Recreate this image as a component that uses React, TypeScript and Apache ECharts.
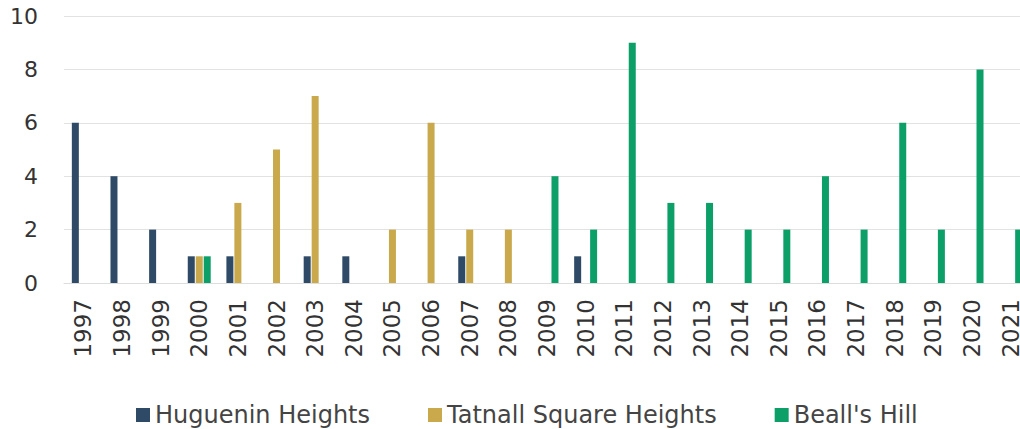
import React, { useEffect, useRef } from "react";
import * as echarts from "echarts";

const years = [
  "1997", "1998", "1999", "2000", "2001", "2002", "2003", "2004", "2005",
  "2006", "2007", "2008", "2009", "2010", "2011", "2012", "2013", "2014",
  "2015", "2016", "2017", "2018", "2019", "2020", "2021",
];
const huguenin = [6, 4, 2, 1, 1, 0, 1, 1, 0, 0, 1, 0, 0, 1, 0, 0, 0, 0, 0, 0, 0, 0, 0, 0, 0];
const tatnall = [0, 0, 0, 1, 3, 5, 7, 0, 2, 6, 2, 2, 0, 0, 0, 0, 0, 0, 0, 0, 0, 0, 0, 0, 0];
const beall = [0, 0, 0, 1, 0, 0, 0, 0, 0, 0, 0, 0, 4, 2, 9, 3, 3, 2, 2, 4, 2, 6, 2, 8, 2];
const seriesNames = ["Huguenin Heights", "Tatnall Square Heights", "Beall's Hill"];
const colors = ["#2e4a66", "#c9a94b", "#0c9f68"];
const yTicks = [0, 2, 4, 6, 8, 10];

const FONT = "DejaVu Sans";

export default function App() {
  const ref = useRef<HTMLDivElement>(null);
  useEffect(() => {
    if (!ref.current) return;
    const chart = echarts.init(ref.current, undefined, { renderer: "svg" });
    const toData = (arr: number[]) => arr.map((v) => (v === 0 ? "-" : v));
    chart.setOption({
      animation: false,
      backgroundColor: "#ffffff",
      color: colors,
      grid: {
        left: 64,
        right: -10,
        top: 16,
        bottom: 146,
        containLabel: false,
        outerBoundsMode: "none",
      },
      legend: {
        left: 131,
        top: 398,
        itemWidth: 14,
        itemHeight: 14,
        itemGap: 58,
        icon: "rect",
        textStyle: { fontFamily: FONT, fontSize: 24, color: "#444" },
        data: seriesNames,
      },
      xAxis: {
        type: "category",
        data: years,
        axisLine: { show: true, lineStyle: { color: "#dddddd" } },
        axisTick: { show: false },
        axisLabel: {
          rotate: 90,
          margin: 16,
          interval: 0,
          fontFamily: FONT,
          fontSize: 23,
          color: "#333",
        },
      },
      yAxis: {
        type: "value",
        min: yTicks[0],
        max: yTicks[yTicks.length - 1],
        interval: 2,
        axisLine: { show: false },
        axisTick: { show: false },
        splitLine: { lineStyle: { color: "#e2e2e2", width: 1 } },
        axisLabel: {
          margin: 26,
          fontFamily: FONT,
          fontSize: 22,
          color: "#333",
        },
      },
      series: [
        { name: seriesNames[0], type: "bar", data: toData(huguenin), barWidth: 7, barGap: "14%" },
        { name: seriesNames[1], type: "bar", data: toData(tatnall), barWidth: 7, barGap: "14%" },
        { name: seriesNames[2], type: "bar", data: toData(beall), barWidth: 7, barGap: "14%" },
      ],
    });
    return () => chart.dispose();
  }, []);
  return (
    <div
      ref={ref}
      style={{ position: "absolute", left: 0, top: 0, width: 1020, height: 429 }}
    />
  );
}
